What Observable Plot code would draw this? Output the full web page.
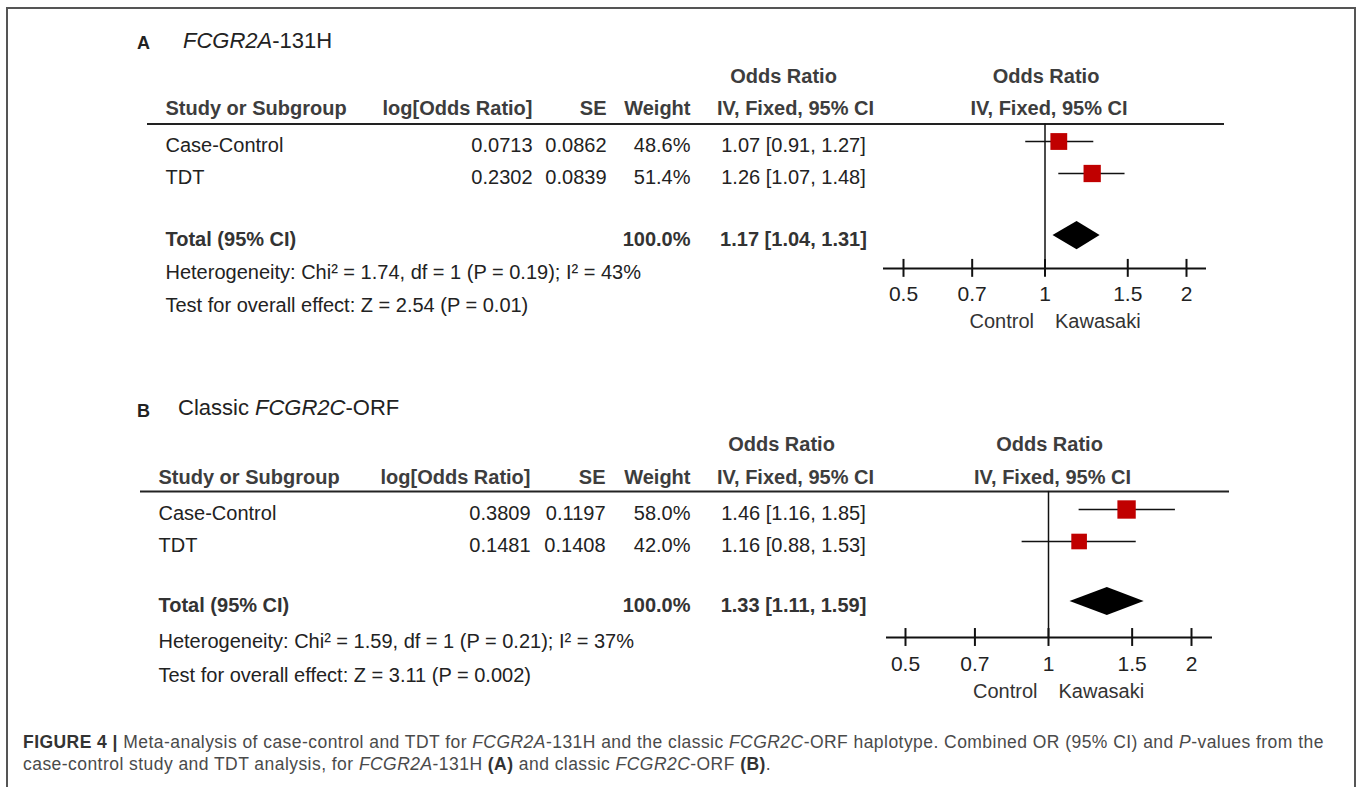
<!DOCTYPE html>
<html>
<head>
<meta charset="utf-8">
<script src="https://cdn.jsdelivr.net/npm/d3@7"></script>
<script src="https://cdn.jsdelivr.net/npm/@observablehq/plot@0.6"></script>
<style>
  html, body { margin: 0; padding: 0; background: #fff; }
  body { font-family: "Liberation Sans", Arial, Helvetica, sans-serif; }
  #root { position: relative; width: 1357px; height: 787px; overflow: hidden; background: #fff; }
  .frame { position: absolute; left: 6px; top: 7px; width: 1346px; height: 820px;
           border: 2px solid #555; border-bottom: none; }
  .tl { position: absolute; line-height: 1; white-space: nowrap; color: #222; }
  .tl.letter { font-size: 18px; font-weight: bold; }
  .tl.name { font-size: 22px; }
  .panel { position: absolute; left: 0; }
  .caption { position: absolute; left: 23px; top: 731px; font-size: 17.5px; line-height: 22px;
             letter-spacing: 0.45px; color: #4a4a4a; white-space: nowrap; }
  .caption b { color: #333; }
</style>
</head>
<body>
<div id="root">
  <div class="frame"></div>
  <div class="tl letter" style="left:137px; top:34px;">A</div>
  <div class="tl name" style="left:183px; top:30px;"><i>FCGR2A</i>-131H</div>
  <div class="tl letter" style="left:137px; top:402px;">B</div>
  <div class="tl name" style="left:178px; top:397px;">Classic <i>FCGR2C</i>-ORF</div>
  <div id="panelA" class="panel" style="top:0px;"></div>
  <div id="panelB" class="panel" style="top:368px;"></div>
  <div class="caption"><b>FIGURE 4 |</b> Meta-analysis of case-control and TDT for <i>FCGR2A</i>-131H and the classic <i>FCGR2C</i>-ORF haplotype. Combined OR (95% CI) and <i>P</i>-values from the<br>case-control study and TDT analysis, for <i>FCGR2A</i>-131H <b>(A)</b> and classic <i>FCGR2C</i>-ORF <b>(B)</b>.</div>
</div>
<script>
// ---------------- DATA ----------------
const studies = ["Case-Control", "TDT"];

// Panel A: FCGR2A-131H
const logOrA = [0.0713, 0.2302];
const seA = [0.0862, 0.0839];
const weightA = [48.6, 51.4];
const orA = [1.07, 1.26];
const loA = [0.91, 1.07];
const hiA = [1.27, 1.48];

// Panel B: Classic FCGR2C-ORF
const logOrB = [0.3809, 0.1481];
const seB = [0.1197, 0.1408];
const weightB = [58.0, 42.0];
const orB = [1.46, 1.16];
const loB = [1.16, 0.88];
const hiB = [1.85, 1.53];

// Pooled (A, B)
const totalWeight = [100.0, 100.0];
const totalOr = [1.17, 1.33];
const totalLo = [1.04, 1.11];
const totalHi = [1.31, 1.59];
const chi2 = ["1.74", "1.59"];
const hetDf = [1, 1];
const hetP = ["0.19", "0.21"];
const iSquared = [43, 37];
const zValue = ["2.54", "3.11"];
const zP = ["0.01", "0.002"];

const tickValues = [0.5, 0.7, 1, 1.5, 2];
const tickLabels = ["0.5", "0.7", "1", "1.5", "2"];
const headers = ["Study or Subgroup", "log[Odds Ratio]", "SE", "Weight", "IV, Fixed, 95% CI"];
const effectHeader = ["Odds Ratio", "IV, Fixed, 95% CI"];
const sideLabels = ["Control", "Kawasaki"];

// ---------------- LAYOUT (pixels / row slots) ----------------
const layoutA = {
  height: 360, frameL: 147, frameR: 1224, x05: 903, x2: 1186, rowPx: [145, 177],
  s: { odds: -2.156, header: -1.156, line: -0.672, total: 2.94, het: 3.97, test: 5.0,
       axis: 3.84, tickLab: 4.66, side: 5.5 },
  tickHalf: 0.28, dh: 0.44, markDy: -4,
  c: { study: 165, logOr: 532, se: 606, weight: 690, ci: 793, ciHead: 795, odds: 783 },
  axisL: 883, axisR: 1206
};
const layoutB = {
  height: 360, frameL: 140, frameR: 1229, x05: 905, x2: 1191, rowPx: [145, 177],
  s: { odds: -2.156, header: -1.125, line: -0.69, total: 2.875, het: 4.0, test: 5.06,
       axis: 3.875, tickLab: 4.7, side: 5.56 },
  tickHalf: 0.28, dh: 0.44, markDy: -4,
  c: { study: 158, logOr: 530, se: 605, weight: 690, ci: 793, ciHead: 795, odds: 781 },
  axisL: 886, axisR: 1212
};

const f1 = d3.format(".1f"), f2 = d3.format(".2f"), f4 = d3.format(".4f");
const ciText = r => `${f2(r.or)} [${f2(r.lo)}, ${f2(r.hi)}]`;

function forest(d, k, L) {
  const W = 1357;
  const fl = L.frameL;
  const rows = studies.map((s, i) => ({
    study: s, logOr: d.logOr[i], se: d.se[i], weight: d.weight[i],
    or: d.or[i], lo: d.lo[i], hi: d.hi[i], slot: i
  }));
  const total = { or: totalOr[k], lo: totalLo[k], hi: totalHi[k], weight: totalWeight[k], slot: L.s.total };
  const diamond = [
    { y: total.slot - L.dh, x1: total.or, x2: total.or },
    { y: total.slot, x1: total.lo, x2: total.hi },
    { y: total.slot + L.dh, x1: total.or, x2: total.or }
  ];
  const het = `Heterogeneity: Chi² = ${chi2[k]}, df = ${hetDf[k]} (P = ${hetP[k]}); I² = ${iSquared[k]}%`;
  const test = `Test for overall effect: Z = ${zValue[k]} (P = ${zP[k]})`;

  const base = { frameAnchor: "left", fontSize: 20, fill: "#222" };
  const head = { ...base, fontWeight: "bold", fill: "#3d3d3d" };
  const T = (data, o) => Plot.text(data, { ...base, ...o });
  const H = (data, o) => Plot.text(data, { ...head, ...o });
  const at = v => () => v;

  const marks = [
    // header texts (left table)
    H([effectHeader[0]], { text: t => t, y: at(L.s.odds), dx: L.c.odds - fl, textAnchor: "middle" }),
    H([headers[0]], { text: t => t, y: at(L.s.header), dx: L.c.study - fl, textAnchor: "start" }),
    H([headers[1]], { text: t => t, y: at(L.s.header), dx: L.c.logOr - fl, textAnchor: "end" }),
    H([headers[2]], { text: t => t, y: at(L.s.header), dx: L.c.se - fl, textAnchor: "end" }),
    H([headers[3]], { text: t => t, y: at(L.s.header), dx: L.c.weight - fl, textAnchor: "end" }),
    H([headers[4]], { text: t => t, y: at(L.s.header), dx: L.c.ciHead - fl, textAnchor: "middle" }),
    // header texts over forest plot
    Plot.text([effectHeader[0]], { x: at(1), y: at(L.s.odds), text: t => t, fontSize: 20, fontWeight: "bold", fill: "#3d3d3d", dx: 1 }),
    Plot.text([effectHeader[1]], { x: at(1), y: at(L.s.header), text: t => t, fontSize: 20, fontWeight: "bold", fill: "#3d3d3d", dx: 4 }),
    // header rule
    Plot.ruleY([L.s.line], { y: v => v, stroke: "#222", strokeWidth: 2 }),
    // study rows
    T(rows, { y: "slot", text: "study", dx: L.c.study - fl, textAnchor: "start" }),
    T(rows, { y: "slot", text: r => f4(r.logOr), dx: L.c.logOr - fl, textAnchor: "end" }),
    T(rows, { y: "slot", text: r => f4(r.se), dx: L.c.se - fl, textAnchor: "end" }),
    T(rows, { y: "slot", text: r => f1(r.weight) + "%", dx: L.c.weight - fl, textAnchor: "end" }),
    T(rows, { y: "slot", text: ciText, dx: L.c.ci - fl, textAnchor: "middle" }),
    // total row
    H([total], { y: "slot", text: () => "Total (95% CI)", dx: L.c.study - fl, textAnchor: "start", fill: "#333" }),
    H([total], { y: "slot", text: r => f1(r.weight) + "%", dx: L.c.weight - fl, textAnchor: "end", fill: "#333" }),
    H([total], { y: "slot", text: ciText, dx: L.c.ci - fl, textAnchor: "middle", fill: "#333" }),
    // heterogeneity and overall effect
    T([het], { y: at(L.s.het), text: t => t, dx: L.c.study - fl, textAnchor: "start" }),
    T([test], { y: at(L.s.test), text: t => t, dx: L.c.study - fl, textAnchor: "start" }),
    // line of no effect
    Plot.ruleX([1], { x: v => v, y1: L.s.line, y2: L.s.axis, stroke: "#111", strokeWidth: 1.5 }),
    // confidence intervals
    Plot.ruleY(rows, { y: "slot", x1: "lo", x2: "hi", stroke: "#111", strokeWidth: 1.5, dy: L.markDy }),
    // weighted squares
    Plot.dot(rows, { x: "or", y: "slot", r: "weight", symbol: "square", fill: "#c00000", stroke: "none", dy: L.markDy }),
    // pooled diamond
    Plot.areaX(diamond, { y: "y", x1: "x1", x2: "x2", fill: "#000", dy: L.markDy }),
    // axis
    Plot.ruleY([L.s.axis], { y: v => v, stroke: "#111", strokeWidth: 2,
      insetLeft: L.axisL - L.frameL, insetRight: L.frameR - L.axisR }),
    Plot.ruleX(tickValues, { x: v => v, y1: L.s.axis - L.tickHalf, y2: L.s.axis + L.tickHalf, stroke: "#111", strokeWidth: 2 }),
    Plot.text(tickValues, { x: v => v, y: at(L.s.tickLab), text: (v, i) => tickLabels[i], fontSize: 21, fill: "#222" }),
    Plot.text([sideLabels[0]], { x: at(1), y: at(L.s.side), text: t => t, textAnchor: "end", dx: -11, fontSize: 20, fill: "#333" }),
    Plot.text([sideLabels[1]], { x: at(1), y: at(L.s.side), text: t => t, textAnchor: "start", dx: 10, fontSize: 20, fill: "#333" })
  ];

  return Plot.plot({
    width: W,
    height: L.height,
    marginLeft: L.frameL,
    marginRight: W - L.frameR,
    marginTop: 0,
    marginBottom: 0,
    x: { type: "log", domain: [0.5, 2], range: [L.x05, L.x2], axis: null },
    y: { type: "linear", domain: [0, 1], range: L.rowPx, axis: null },
    r: { type: "sqrt", domain: [0, 100], range: [0, 13.6] },
    style: { background: "transparent", overflow: "visible",
             fontFamily: "'Liberation Sans', Arial, Helvetica, sans-serif" },
    marks
  });
}

const dataA = { logOr: logOrA, se: seA, weight: weightA, or: orA, lo: loA, hi: hiA };
const dataB = { logOr: logOrB, se: seB, weight: weightB, or: orB, lo: loB, hi: hiB };
document.getElementById("panelA").appendChild(forest(dataA, 0, layoutA));
document.getElementById("panelB").appendChild(forest(dataB, 1, layoutB));
</script>
</body>
</html>
